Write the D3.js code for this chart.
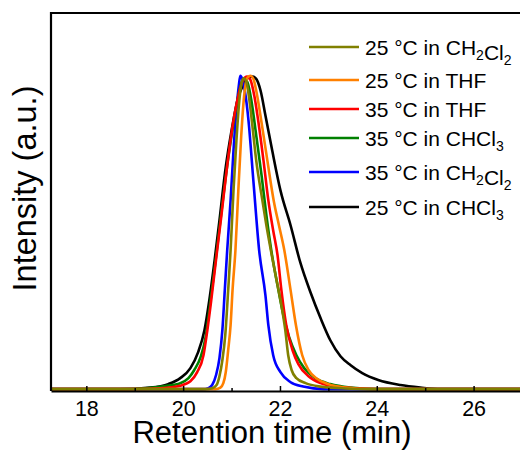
<!DOCTYPE html>
<html>
<head>
<meta charset="utf-8">
<script src="https://cdn.jsdelivr.net/npm/d3@7"></script>
<style>
  body { margin: 0; background: #fff; }
  text { font-family: "Liberation Sans", Arial, sans-serif; fill: #000; }
</style>
</head>
<body>
<div id="chart"></div>
<script>
// GPC traces: [retention time (min), normalised intensity]
const olive25DCM = [[17.2,0],[20.46,0],[20.60,0.003],[20.69,0.013],[20.75,0.041],[20.81,0.092],[20.87,0.172],[20.93,0.315],[20.98,0.443],[21.04,0.634],[21.10,0.793],[21.16,0.920],[21.21,0.978],[21.25,0.992],[21.31,0.978],[21.37,0.920],[21.43,0.841],[21.51,0.729],[21.62,0.618],[21.72,0.522],[21.82,0.436],[21.93,0.347],[22.03,0.268],[22.11,0.188],[22.17,0.108],[22.24,0.061],[22.34,0.035],[22.53,0.019],[22.84,0.008],[23.35,0.002],[23.87,0],[27.2,0]];
const orange25THF = [[17.2,0],[20.67,0],[20.77,0.005],[20.83,0.019],[20.88,0.054],[20.93,0.124],[20.98,0.204],[21.02,0.315],[21.08,0.443],[21.14,0.634],[21.20,0.809],[21.26,0.936],[21.33,0.994],[21.39,1.0],[21.45,0.990],[21.51,0.952],[21.62,0.850],[21.74,0.729],[21.87,0.602],[21.98,0.522],[22.09,0.443],[22.22,0.315],[22.33,0.204],[22.46,0.108],[22.59,0.061],[22.75,0.035],[23.0,0.016],[23.35,0.005],[23.87,0],[27.2,0]];
const red35THF = [[17.2,0],[18.91,0],[19.53,0.003],[19.94,0.011],[20.15,0.025],[20.29,0.054],[20.42,0.108],[20.50,0.188],[20.58,0.283],[20.69,0.427],[20.79,0.554],[20.91,0.713],[21.04,0.857],[21.14,0.936],[21.24,0.987],[21.32,0.997],[21.39,0.987],[21.47,0.936],[21.55,0.857],[21.66,0.729],[21.76,0.602],[21.86,0.506],[21.95,0.427],[22.03,0.315],[22.13,0.204],[22.26,0.124],[22.38,0.080],[22.59,0.041],[22.84,0.019],[23.15,0.008],[23.66,0.002],[24.28,0],[27.2,0]];
const green35CHCl3 = [[17.2,0],[18.70,0],[19.22,0.003],[19.63,0.010],[19.94,0.019],[20.11,0.035],[20.23,0.061],[20.36,0.102],[20.46,0.162],[20.54,0.252],[20.65,0.385],[20.75,0.513],[20.87,0.666],[21.00,0.809],[21.12,0.920],[21.20,0.975],[21.26,0.990],[21.33,0.978],[21.41,0.920],[21.51,0.809],[21.62,0.682],[21.72,0.554],[21.82,0.443],[21.95,0.331],[22.07,0.236],[22.19,0.166],[22.34,0.108],[22.50,0.067],[22.73,0.035],[23.04,0.016],[23.46,0.005],[24.07,0],[27.2,0]];
const blue35DCM = [[17.2,0],[20.40,0],[20.52,0.003],[20.60,0.013],[20.68,0.045],[20.75,0.099],[20.81,0.188],[20.86,0.315],[20.91,0.443],[20.98,0.602],[21.04,0.761],[21.10,0.889],[21.15,0.968],[21.18,1.0],[21.22,0.990],[21.29,0.936],[21.35,0.857],[21.45,0.666],[21.57,0.443],[21.70,0.299],[21.76,0.204],[21.86,0.108],[22.01,0.054],[22.22,0.022],[22.48,0.008],[22.90,0],[27.2,0]];
const black25CHCl3 = [[17.2,0],[18.70,0],[19.32,0.005],[19.69,0.016],[19.94,0.035],[20.15,0.067],[20.31,0.118],[20.44,0.188],[20.54,0.283],[20.65,0.411],[20.75,0.538],[20.87,0.697],[21.00,0.825],[21.12,0.920],[21.24,0.971],[21.35,0.994],[21.43,0.997],[21.51,0.990],[21.60,0.952],[21.70,0.873],[21.84,0.761],[22.01,0.634],[22.22,0.522],[22.42,0.404],[22.63,0.309],[22.84,0.226],[23.04,0.156],[23.25,0.105],[23.46,0.076],[23.70,0.051],[24.03,0.029],[24.49,0.013],[24.90,0.005],[25.31,0],[27.2,0]];

const seriesData = [olive25DCM, orange25THF, red35THF, green35CHCl3, blue35DCM, black25CHCl3];
const seriesNames = ["25 °C in CH_2Cl_2", "25 °C in THF", "35 °C in THF", "35 °C in CHCl_3", "35 °C in CH_2Cl_2", "25 °C in CHCl_3"];
const seriesColors = ["#808000", "#ff8000", "#ff0000", "#008000", "#0000ff", "#000000"];
const xTicks = [18, 20, 22, 24, 26];
const xMinorTicks = [19, 21, 23, 25];

// layout
const W = 520, H = 450;
const plotLeft = 51, plotTop = 13, plotRight = 522, plotBottom = 391;
const legendRowY = [47, 80, 109, 138, 172, 207];

const svg = d3.select("#chart")
  .append("svg")
  .attr("width", W)
  .attr("height", H);

const x = d3.scaleLinear()
  .domain([17.27, 27.0])
  .range([plotLeft, plotRight]);

const y = d3.scaleLinear()
  .domain([-0.006, 1.2])
  .range([plotBottom, plotTop]);

svg.append("clipPath")
  .attr("id", "plotClip")
  .append("rect")
  .attr("x", plotLeft)
  .attr("y", plotTop)
  .attr("width", plotRight - plotLeft + 10)
  .attr("height", plotBottom - plotTop);

// traces (drawn back to front, black first)
const line = d3.line()
  .x(d => x(d[0]))
  .y(d => y(d[1]))
  .curve(d3.curveMonotoneX);

const order = d3.range(seriesData.length).reverse();
svg.append("g")
  .attr("clip-path", "url(#plotClip)")
  .selectAll("path")
  .data(order)
  .join("path")
  .attr("d", i => line(seriesData[i]))
  .attr("fill", "none")
  .attr("stroke", i => seriesColors[i])
  .attr("stroke-width", 2.6)
  .attr("stroke-linejoin", "round");

// frame: left and top borders (right side runs off the page)
svg.append("path")
  .attr("d", `M${plotLeft},${plotBottom}V${plotTop}H${W + 10}`)
  .attr("fill", "none")
  .attr("stroke", "#000")
  .attr("stroke-width", 2.2);

// x axis with inward ticks
const xAxis = svg.append("g")
  .attr("transform", `translate(0,${plotBottom})`)
  .call(d3.axisBottom(x)
    .tickValues(xTicks)
    .tickSize(-5)
    .tickSizeOuter(0)
    .tickPadding(10)
    .tickFormat(d3.format("d")));
xAxis.select(".domain").attr("stroke-width", 2.2);
xAxis.selectAll(".tick line").attr("stroke-width", 1.5);
xAxis.selectAll(".tick text")
  .style("font-size", "21.5px")
  .style("font-family", "'Liberation Sans', Arial, sans-serif");

const xMinor = svg.append("g")
  .attr("transform", `translate(0,${plotBottom})`)
  .call(d3.axisBottom(x)
    .tickValues(xMinorTicks)
    .tickSize(-3)
    .tickSizeOuter(0)
    .tickFormat(""));
xMinor.select(".domain").remove();
xMinor.selectAll(".tick line").attr("stroke-width", 1.5);

// axis titles
svg.append("text")
  .attr("x", 272)
  .attr("y", 443)
  .attr("text-anchor", "middle")
  .style("font-size", "31px")
  .text("Retention time (min)");

svg.append("text")
  .attr("transform", "translate(35.5,188.5) rotate(-90)")
  .attr("text-anchor", "middle")
  .style("font-size", "32.5px")
  .text("Intensity (a.u.)");

// legend
const legend = svg.append("g");
seriesNames.forEach((name, i) => {
  const ly = legendRowY[i];
  legend.append("line")
    .attr("x1", 309).attr("x2", 359)
    .attr("y1", ly).attr("y2", ly)
    .attr("stroke", seriesColors[i])
    .attr("stroke-width", 2.5);
  const t = legend.append("text")
    .attr("x", 365)
    .attr("y", ly + 7.5)
    .style("font-size", "21px");
  name.split(/(_\d)/).filter(s => s.length).forEach(part => {
    if (part[0] === "_") {
      t.append("tspan").attr("dy", 5).style("font-size", "14px").text(part.slice(1));
      t.append("tspan").attr("dy", -5).text("");
    } else {
      t.append("tspan").text(part);
    }
  });
});
</script>
</body>
</html>
